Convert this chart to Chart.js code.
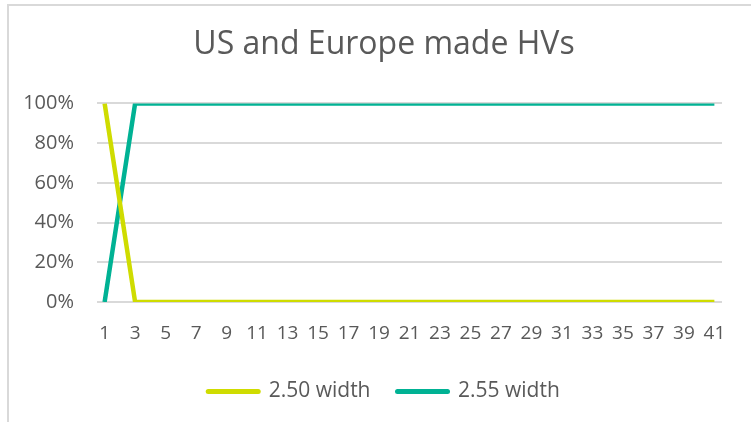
<!DOCTYPE html>
<html>
<head>
<meta charset="utf-8">
<script src="https://cdn.jsdelivr.net/npm/chart.js@4"></script>
<style>
  html, body { margin: 0; padding: 0; background: #fff; overflow: hidden; width: 751px; height: 422px; }
  #frame { position: absolute; left: 7px; top: 4px; width: 800px; height: 500px;
           border-left: 2px solid #d9d9d9; border-top: 2px solid #d9d9d9; }
  #wrap { position: absolute; left: 8px; top: 0; width: 752px; height: 422px; }
</style>
</head>
<body>
<div id="frame"></div>
<div id="wrap"><canvas id="c" width="752" height="422"></canvas></div>
<script>
const categories = ["1","2","3","4","5","6","7","8","9","10","11","12","13","14","15","16","17","18","19","20","21","22","23","24","25","26","27","28","29","30","31","32","33","34","35","36","37","38","39","40","41"];
const width250 = [100,50,0,0,0,0,0,0,0,0,0,0,0,0,0,0,0,0,0,0,0,0,0,0,0,0,0,0,0,0,0,0,0,0,0,0,0,0,0,0,0];
const width255 = [0,50,100,100,100,100,100,100,100,100,100,100,100,100,100,100,100,100,100,100,100,100,100,100,100,100,100,100,100,100,100,100,100,100,100,100,100,100,100,100,100];
const yTicks = [0,20,40,60,80,100];
const seriesNames = ["2.50 width","2.55 width"];
const seriesColors = ["#cfdc00","#00b294"];

const FONT = "'Open Sans', sans-serif";
const TXT = "#595959";

new Chart(document.getElementById('c'), {
  type: 'line',
  data: {
    labels: categories,
    datasets: [
      { label: seriesNames[0], data: width250, borderColor: seriesColors[0], backgroundColor: seriesColors[0],
        borderWidth: 4.5, pointRadius: 0, tension: 0, fill: false },
      { label: seriesNames[1], data: width255, borderColor: seriesColors[1], backgroundColor: seriesColors[1],
        borderWidth: 4.5, pointRadius: 0, tension: 0, fill: false }
    ]
  },
  options: {
    responsive: false,
    animation: false,
    devicePixelRatio: 1,
    layout: { padding: { left: 0, right: 0, top: 0, bottom: 10 } },
    plugins: {
      title: {
        display: true,
        text: 'US and Europe made HVs',
        color: TXT,
        font: { family: FONT, size: 32, weight: 'normal' },
        padding: { top: 26, bottom: 39 }
      },
      legend: {
        position: 'bottom',
        labels: {
          color: TXT,
          font: { family: FONT, size: 21 },
          usePointStyle: true,
          pointStyle: 'line',
          pointStyleWidth: 50,
          padding: 27,
          generateLabels(chart) {
            return chart.data.datasets.map((ds, i) => ({
              text: ds.label,
              fillStyle: ds.borderColor,
              strokeStyle: ds.borderColor,
              lineWidth: 5,
              lineCap: 'round',
              pointStyle: 'line',
              fontColor: TXT,
              datasetIndex: i,
              hidden: false
            }));
          }
        }
      },
      tooltip: { enabled: false }
    },
    scales: {
      x: {
        offset: true,
        afterFit(scale) { scale.height = 52; },
        grid: { display: false, drawTicks: false },
        border: { display: false },
        ticks: {
          autoSkip: false, maxRotation: 0, padding: 20,
          color: TXT, font: { family: FONT, size: 19 },
          callback(v, i) { return i % 2 === 0 ? categories[i] : ''; }
        }
      },
      y: {
        min: 0, max: 100,
        afterFit(scale) { scale.width = 89; },
        afterBuildTicks(scale) { scale.ticks = yTicks.map(v => ({ value: v })); },
        grid: { color: '#d9d9d9', lineWidth: 2, drawTicks: false },
        border: { display: false },
        ticks: {
          padding: 23, color: TXT, font: { family: FONT, size: 20 },
          callback(v) { return v + '%'; }
        }
      },
      yRight: {
        position: 'right',
        min: 0, max: 100,
        afterFit(scale) { scale.width = 38; },
        grid: { display: false, drawTicks: false },
        border: { display: false },
        ticks: { display: false }
      }
    }
  }
});
</script>
</body>
</html>
